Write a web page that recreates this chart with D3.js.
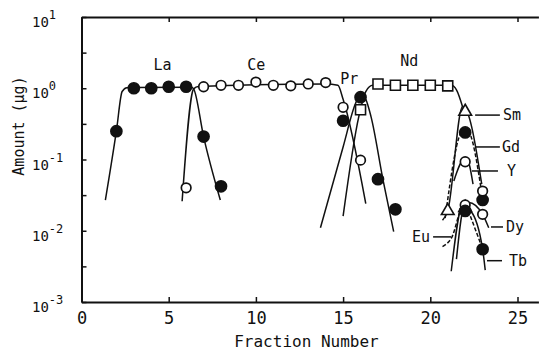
<!DOCTYPE html>
<html>
<head>
<meta charset="utf-8">
<script src="https://cdn.jsdelivr.net/npm/d3@7"></script>
<style>
  body { margin: 0; background: #fff; }
  text { font-family: "DejaVu Sans Mono", monospace; fill: #111; }
</style>
</head>
<body>
<div id="chart"></div>
<script>
// Measured fractions (fraction number -> amount in µg)
const laFrac = [2, 3, 4, 5, 6, 7, 8];
const laAmt  = [0.25, 1.0, 1.0, 1.05, 1.05, 0.21, 0.042];
const ceFrac = [6, 7, 8, 9, 10, 11, 12, 13, 14, 15, 16];
const ceAmt  = [0.04, 1.05, 1.1, 1.1, 1.22, 1.1, 1.08, 1.15, 1.2, 0.54, 0.098];
const prFrac = [15, 16, 17, 18];
const prAmt  = [0.35, 0.75, 0.053, 0.02];
const ndFrac = [16, 17, 18, 19, 20, 21];
const ndAmt  = [0.5, 1.15, 1.1, 1.1, 1.1, 1.08];
const smFrac = [21, 22];
const smAmt  = [0.019, 0.47];
const gdFrac = [22, 23];
const gdAmt  = [0.24, 0.027];
const yFrac  = [22, 23];
const yAmt   = [0.093, 0.036];
const euFrac = [22];
const euAmt  = [0.021];
const dyFrac = [22, 23];
const dyAmt  = [0.023, 0.017];
const tbFrac = [22, 23];
const tbAmt  = [0.019, 0.0055];

// Hand-drawn elution curves [fraction, amount]
const laCurve = [[1.37, 0.027], [2, 0.25], [2.33, 0.9], [2.6, 1.02], [6.3, 1.03], [6.43, 0.98], [7, 0.21], [7.96, 0.027]];
const ceCurve = [[5.77, 0.026], [6.43, 0.98], [6.7, 1.06], [14, 1.15], [14.7, 1.1], [15.0, 0.7], [16.3, 0.024]];
const prCurve = [[13.7, 0.011], [15, 0.15], [15.7, 0.6], [16.0, 0.82], [16.3, 0.7], [16.6, 0.4], [17.3, 0.05], [17.9, 0.0097]];
const ndCurve = [[15.0, 0.016], [15.9, 0.4], [16.3, 0.9], [16.7, 1.1], [21.2, 1.1], [21.5, 0.95], [21.85, 0.55]];
const smCurve = [[20.7, 0.014], [21, 0.019], [21.85, 0.55], [22.05, 0.5], [22.95, 0.045]];
const gdCurve = [[20.85, 0.015], [21.9, 0.26], [22.1, 0.26], [23.0, 0.028]];
const yCurve  = [[21.35, 0.05], [21.95, 0.1], [22.1, 0.1], [22.45, 0.045]];
const euCurve = [[20.7, 0.006], [21.2, 0.0078], [21.95, 0.024], [22.3, 0.018]];
const dyCurve = [[21.2, 0.0027], [21.9, 0.025], [22.2, 0.025], [23, 0.017], [23.35, 0.011]];
const tbCurve = [[21.5, 0.004], [21.95, 0.021], [22.3, 0.019], [23, 0.0055], [23.15, 0.0028]];
const tbDash  = [[22.3, 0.016], [22.95, 0.006]];

// Element names and where they sit [fraction, amount]
const topNames = ["La", "Ce", "Pr", "Nd"];
const topPos   = [[4.64, 2.12], [10.02, 2.12], [15.35, 1.35], [18.79, 2.41]];
const sideNames = ["Sm", "Gd", "Y", "Dy", "Tb"];
const sidePos   = [[24.17, 0.42], [24.11, 0.15], [24.4, 0.069], [24.34, 0.0113], [24.51, 0.0038]];
const sideLead  = [[22.57, 23.99], [22.57, 23.99], [22.39, 23.88], [23.48, 24.17], [23.25, 24.11]];

const xTicks = [0, 5, 10, 15, 20, 25];
const yDecades = [1, 0, -1, -2, -3];

const width = 539, height = 359;

const svg = d3.select("#chart").append("svg")
    .attr("width", width)
    .attr("height", height);

const x = d3.scaleLinear().domain([0, 26.2]).range([81.5, 81.5 + 26.2 * 17.44]);
const y = d3.scaleLog().domain([1e-3, 10]).range([302, 17]);

// axes, ticks inside
const halfDecades = d3.range(-3, 1.01, 0.5).map(e => Math.pow(10, e));

svg.append("g")
    .attr("transform", `translate(0,${y(1e-3)})`)
    .call(d3.axisBottom(x).tickValues(xTicks).tickSizeInner(-5).tickSizeOuter(0).tickPadding(10))
    .call(g => g.selectAll("text").style("font-size", "17px").style("font-family", "DejaVu Sans Mono"));

svg.append("g")
    .attr("transform", `translate(0,${y(10)})`)
    .call(d3.axisTop(x).tickValues(xTicks).tickSizeInner(-5).tickSizeOuter(0).tickFormat(""));

svg.append("g")
    .attr("transform", `translate(${x(0)},0)`)
    .call(d3.axisLeft(y).tickValues(halfDecades).tickSizeInner(-5).tickSizeOuter(0).tickFormat(""));

svg.selectAll(".domain").attr("stroke", "#111").attr("stroke-width", 2);
svg.selectAll(".tick line").attr("stroke", "#111").attr("stroke-width", 1.5);

// decade labels 10^n
const yl = svg.append("g").selectAll("text")
    .data(yDecades)
    .enter().append("text")
    .attr("x", 32)
    .attr("y", d => y(Math.pow(10, d)) + 10)
    .style("font-size", "14px");
yl.append("tspan").text("10");
yl.append("tspan").attr("dy", -8).style("font-size", "12px").text(d => d);

// axis titles
svg.append("text")
    .attr("x", x(12.9))
    .attr("y", 347)
    .attr("text-anchor", "middle")
    .style("font-size", "16px")
    .text("Fraction Number");

svg.append("text")
    .attr("transform", `translate(24,126) rotate(-90)`)
    .attr("text-anchor", "middle")
    .style("font-size", "15px")
    .text("Amount (µg)");

// curves
const line = d3.line()
    .x(d => x(d[0]))
    .y(d => y(d[1]))
    .curve(d3.curveMonotoneX);

const solid = [laCurve, ceCurve, prCurve, ndCurve, smCurve, yCurve, dyCurve, tbCurve];
const dashed = [gdCurve, euCurve, tbDash];

svg.append("g").selectAll("path")
    .data(solid)
    .enter().append("path")
    .attr("d", line)
    .attr("fill", "none")
    .attr("stroke", "#111")
    .attr("stroke-width", 1.5);

svg.append("g").selectAll("path")
    .data(dashed)
    .enter().append("path")
    .attr("d", line)
    .attr("fill", "none")
    .attr("stroke", "#111")
    .attr("stroke-width", 1.5)
    .attr("stroke-dasharray", "4,2");

// markers
const zip = (fr, am) => fr.map((f, i) => [f, am[i]]);

function circles(fr, am, filled) {
    svg.append("g").selectAll("circle")
        .data(zip(fr, am))
        .enter().append("circle")
        .attr("cx", d => x(d[0]))
        .attr("cy", d => y(d[1]))
        .attr("r", filled ? 5.5 : 4.8)
        .attr("fill", filled ? "#111" : "#fff")
        .attr("stroke", "#111")
        .attr("stroke-width", 1.7);
}

function symbols(fr, am, type, size, filled) {
    svg.append("g").selectAll("path")
        .data(zip(fr, am))
        .enter().append("path")
        .attr("transform", d => `translate(${x(d[0])},${y(d[1])})`)
        .attr("d", d3.symbol().type(type).size(size))
        .attr("fill", filled ? "#111" : "#fff")
        .attr("stroke", "#111")
        .attr("stroke-width", 1.6);
}

circles(ceFrac, ceAmt, false);
circles(laFrac, laAmt, true);
circles(prFrac, prAmt, true);
symbols(ndFrac, ndAmt, d3.symbolSquare, 100, false);
symbols(smFrac, smAmt, d3.symbolTriangle, 70, false);
symbols(euFrac, euAmt, d3.symbolTriangle, 70, true);
circles(gdFrac, gdAmt, true);
circles(yFrac, yAmt, false);
circles(dyFrac, dyAmt, false);
circles(tbFrac, tbAmt, true);

// element labels
svg.append("g").selectAll("text")
    .data(topNames)
    .enter().append("text")
    .attr("x", (d, i) => x(topPos[i][0]))
    .attr("y", (d, i) => y(topPos[i][1]))
    .attr("dy", "0.35em")
    .attr("text-anchor", "middle")
    .style("font-size", "15px")
    .text(d => d);

svg.append("g").selectAll("line")
    .data(sideNames)
    .enter().append("line")
    .attr("x1", (d, i) => x(sideLead[i][0]))
    .attr("x2", (d, i) => x(sideLead[i][1]))
    .attr("y1", (d, i) => y(sidePos[i][1]))
    .attr("y2", (d, i) => y(sidePos[i][1]))
    .attr("stroke", "#111")
    .attr("stroke-width", 1.5);

svg.append("g").selectAll("text")
    .data(sideNames)
    .enter().append("text")
    .attr("x", (d, i) => x(sidePos[i][0]))
    .attr("y", (d, i) => y(sidePos[i][1]))
    .attr("dy", "0.35em")
    .style("font-size", "15px")
    .text(d => d);

// Eu label points right at its curve
svg.append("line")
    .attr("x1", x(20.16)).attr("x2", x(21.19))
    .attr("y1", y(0.0082)).attr("y2", y(0.0082))
    .attr("stroke", "#111").attr("stroke-width", 1.5);
svg.append("text")
    .attr("x", x(19.99))
    .attr("y", y(0.0082))
    .attr("dy", "0.35em")
    .attr("text-anchor", "end")
    .style("font-size", "15px")
    .text("Eu");
</script>
</body>
</html>
